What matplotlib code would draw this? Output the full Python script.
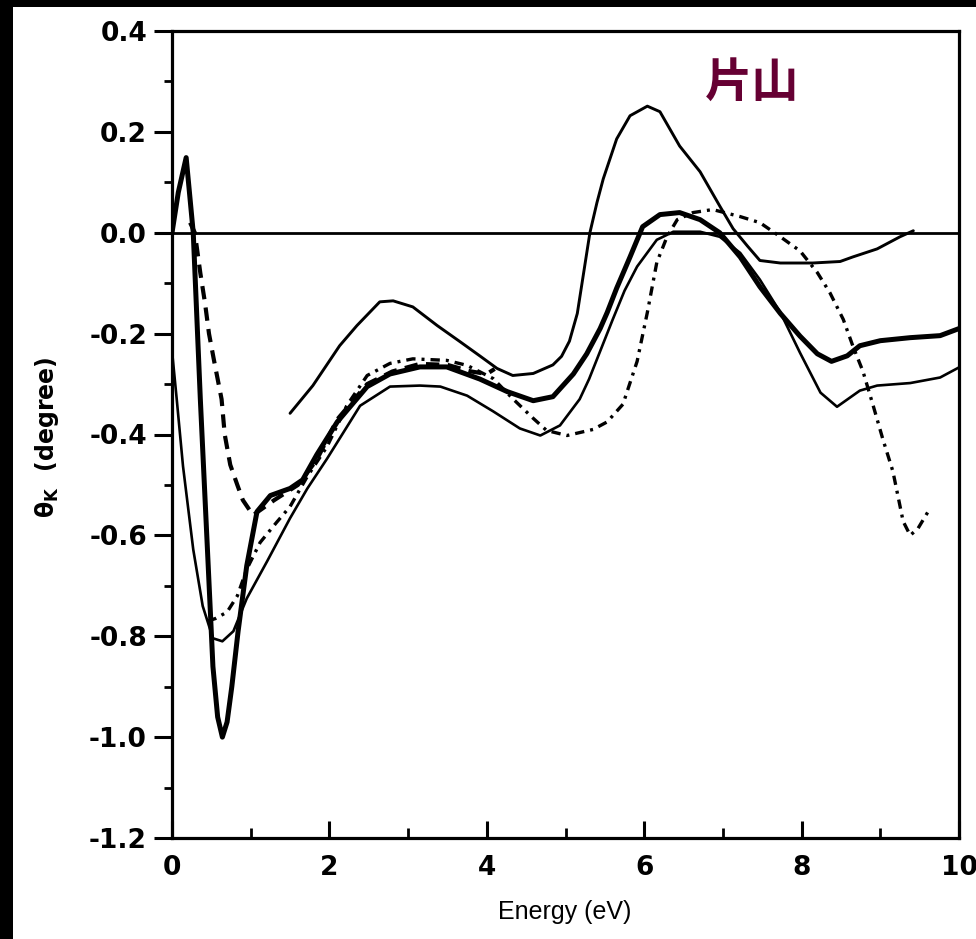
import matplotlib
matplotlib.use("Agg")
import matplotlib.pyplot as plt
from matplotlib.patches import Rectangle
from matplotlib.ticker import MultipleLocator, FixedLocator

# ---- data ----
thick_E = [0, 0.08, 0.18, 0.27, 0.36, 0.46, 0.52, 0.58, 0.64, 0.70, 0.76, 0.84, 0.95, 1.08, 1.25,
           1.5, 1.66, 1.84, 2.1, 2.48, 2.77, 3.15, 3.49, 3.91, 4.26, 4.59, 4.84, 5.1, 5.27, 5.44,
           5.53, 5.65, 5.82, 5.98, 6.2, 6.45, 6.71, 6.96, 7.22, 7.47, 7.73, 7.98, 8.2, 8.38, 8.58,
           8.74, 9.0, 9.38, 9.76, 10.0]
thick_T = [0, 0.08, 0.149, 0.0, -0.33, -0.66, -0.86, -0.96, -1.0, -0.97, -0.9, -0.79, -0.66, -0.553,
           -0.521, -0.507, -0.49, -0.44, -0.375, -0.305, -0.28, -0.266, -0.266, -0.29, -0.315, -0.333,
           -0.325, -0.28, -0.24, -0.19, -0.158, -0.11, -0.048, 0.012, 0.036, 0.04, 0.026, 0.0,
           -0.048, -0.107, -0.16, -0.205, -0.24, -0.255, -0.244, -0.224, -0.214, -0.208, -0.204,
           -0.19]

thin_E = [0, 0.06, 0.14, 0.27, 0.39, 0.52, 0.64, 0.78, 0.95, 1.21, 1.5, 1.72, 1.97, 2.39, 2.77,
          3.15, 3.41, 3.75, 4.08, 4.42, 4.68, 4.93, 5.18, 5.3, 5.44, 5.6, 5.75, 5.91, 6.16, 6.37,
          6.71, 6.96, 7.22, 7.47, 7.73, 7.98, 8.24, 8.45, 8.74, 8.96, 9.38, 9.76, 10.0]
thin_T = [-0.234, -0.33, -0.463, -0.628, -0.74, -0.804, -0.81, -0.79, -0.725, -0.651, -0.566, -0.507,
          -0.448, -0.343, -0.305, -0.303, -0.305, -0.323, -0.354, -0.388, -0.402, -0.382, -0.33,
          -0.29, -0.235, -0.172, -0.115, -0.067, -0.014, 0.002, 0.002, -0.008, -0.04, -0.093,
          -0.158, -0.238, -0.317, -0.345, -0.313, -0.303, -0.298, -0.287, -0.267]

top_E = [1.5, 1.79, 2.13, 2.35, 2.64, 2.81, 3.06, 3.37, 3.66, 3.91, 4.13, 4.33, 4.59, 4.84, 4.95,
         5.05, 5.15, 5.22, 5.31, 5.4, 5.48, 5.65, 5.82, 6.04, 6.2, 6.45, 6.71, 6.96, 7.13, 7.31,
         7.47, 7.73, 8.14, 8.49, 8.65, 8.96, 9.25, 9.42]
top_T = [-0.358, -0.303, -0.224, -0.184, -0.137, -0.135, -0.147, -0.184, -0.216, -0.244, -0.269,
         -0.283, -0.279, -0.262, -0.245, -0.215, -0.16, -0.09, 0.0, 0.06, 0.107, 0.186, 0.232,
         0.251, 0.24, 0.172, 0.121, 0.053, 0.008, -0.026, -0.055, -0.06, -0.06, -0.057, -0.048,
         -0.032, -0.008, 0.004]

dash_E = [0.23, 0.29, 0.36, 0.42, 0.47, 0.53, 0.58, 0.63, 0.67, 0.74, 0.83, 0.9, 1.03, 1.3, 1.6,
          1.84, 2.1, 2.48, 2.8, 3.15, 3.5, 3.8, 4.0, 4.1]
dash_T = [0.02, 0.0, -0.08, -0.14, -0.2, -0.25, -0.29, -0.33, -0.4, -0.46, -0.5, -0.53, -0.56,
          -0.53, -0.5, -0.45, -0.37, -0.3, -0.275, -0.26, -0.262, -0.275, -0.28, -0.27]

dd_E = [0.45, 0.55, 0.7, 0.83, 0.95, 1.12, 1.33, 1.5, 1.72, 1.97, 2.22, 2.48, 2.77, 3.06, 3.49,
        3.75, 4.08, 4.33, 4.59, 4.76, 5.02, 5.35, 5.53, 5.73, 5.91, 6.04, 6.16, 6.29, 6.42, 6.62,
        6.87, 7.22, 7.47, 7.73, 7.98, 8.2, 8.36, 8.53, 8.65, 8.78, 8.91, 9.03, 9.16, 9.29, 9.38,
        9.48, 9.63]
dd_T = [-0.77, -0.765, -0.752, -0.72, -0.667, -0.614, -0.574, -0.543, -0.483, -0.424, -0.343,
        -0.283, -0.259, -0.25, -0.253, -0.263, -0.289, -0.329, -0.368, -0.392, -0.402, -0.39,
        -0.375, -0.34, -0.255, -0.158, -0.059, -0.008, 0.026, 0.04, 0.046, 0.032, 0.02, -0.008,
        -0.036, -0.079, -0.119, -0.172, -0.224, -0.275, -0.343, -0.408, -0.473, -0.572, -0.6,
        -0.586, -0.547]

x_ticks = [0, 2, 4, 6, 8, 10]
y_ticks = [-1.2, -1.0, -0.8, -0.6, -0.4, -0.2, 0.0, 0.2, 0.4]
y_ticklabels = ["-1.2", "-1.0", "-0.8", "-0.6", "-0.4", "-0.2", "0.0", "0.2", "0.4"]

# ---- figure ----
W, H = 976, 939
fig = plt.figure(figsize=(W / 100, H / 100), dpi=100, facecolor="black")
fig.patches.append(Rectangle((13 / W, 0), 1 - 13 / W, 1 - 7 / H, transform=fig.transFigure,
                             facecolor="white", edgecolor="none", zorder=-5))

ax_l, ax_r, ax_t, ax_b = 172, 959, 31, 838
ax = fig.add_axes([ax_l / W, 1 - ax_b / H, (ax_r - ax_l) / W, (ax_b - ax_t) / H])
ax.set_facecolor("white")
ax.set_xlim(0, 10)
ax.set_ylim(-1.2, 0.4)

ax.axhline(0, color="black", lw=2.0, zorder=2)

ax.plot(top_E, top_T, color="black", lw=2.1, solid_capstyle="round", solid_joinstyle="round", zorder=3)
ax.plot(thin_E, thin_T, color="black", lw=1.9, solid_capstyle="round", solid_joinstyle="round", zorder=3)
ax.plot(thick_E, thick_T, color="black", lw=3.6, solid_joinstyle="round",
        solid_capstyle="round", zorder=4)
ax.plot(dash_E, dash_T, color="black", lw=3.0, linestyle=(0, (3.2, 2.0)), zorder=3)
ax.plot(dd_E, dd_T, color="black", lw=2.4, linestyle=(0, (2.8, 1.8, 0.9, 1.8)), zorder=3)

for s in ax.spines.values():
    s.set_linewidth(2.3)

ax.xaxis.set_major_locator(FixedLocator(x_ticks))
ax.xaxis.set_minor_locator(MultipleLocator(1))
ax.yaxis.set_major_locator(FixedLocator(y_ticks))
ax.yaxis.set_minor_locator(MultipleLocator(0.1))
ax.set_yticklabels(y_ticklabels)
ax.set_xticklabels([str(v) for v in x_ticks])

ax.tick_params(axis="x", which="major", direction="in", length=12, width=2.2, pad=12)
ax.tick_params(axis="x", which="minor", direction="in", length=7, width=2.0)
ax.tick_params(axis="y", which="major", direction="out", length=13, width=2.2, pad=5)
ax.tick_params(axis="y", which="minor", direction="out", length=6, width=2.0)
ax.tick_params(top=False, right=False)

for lab in ax.get_xticklabels() + ax.get_yticklabels():
    lab.set_fontfamily("DejaVu Sans")
    lab.set_fontweight("bold")
    lab.set_fontsize(19)

fig.text(47 / W, 1 - 437 / H, r"$\mathbf{\theta}_{\mathbf{K}}$  (degree)", rotation=90,
         ha="center", va="center", fontsize=17, fontweight="bold", family="DejaVu Sans")
fig.text(565 / W, 1 - 912 / H, "Energy (eV)", ha="center", va="center",
         fontsize=18, family="Liberation Sans")

fig.text(752 / W, 1 - 83 / H, "片山", fontsize=34, fontweight="bold", color="#660033",
         ha="center", va="center", family=["Noto Sans CJK JP", "DejaVu Sans"])

fig.savefig("out.png", dpi=100, facecolor=fig.get_facecolor())
